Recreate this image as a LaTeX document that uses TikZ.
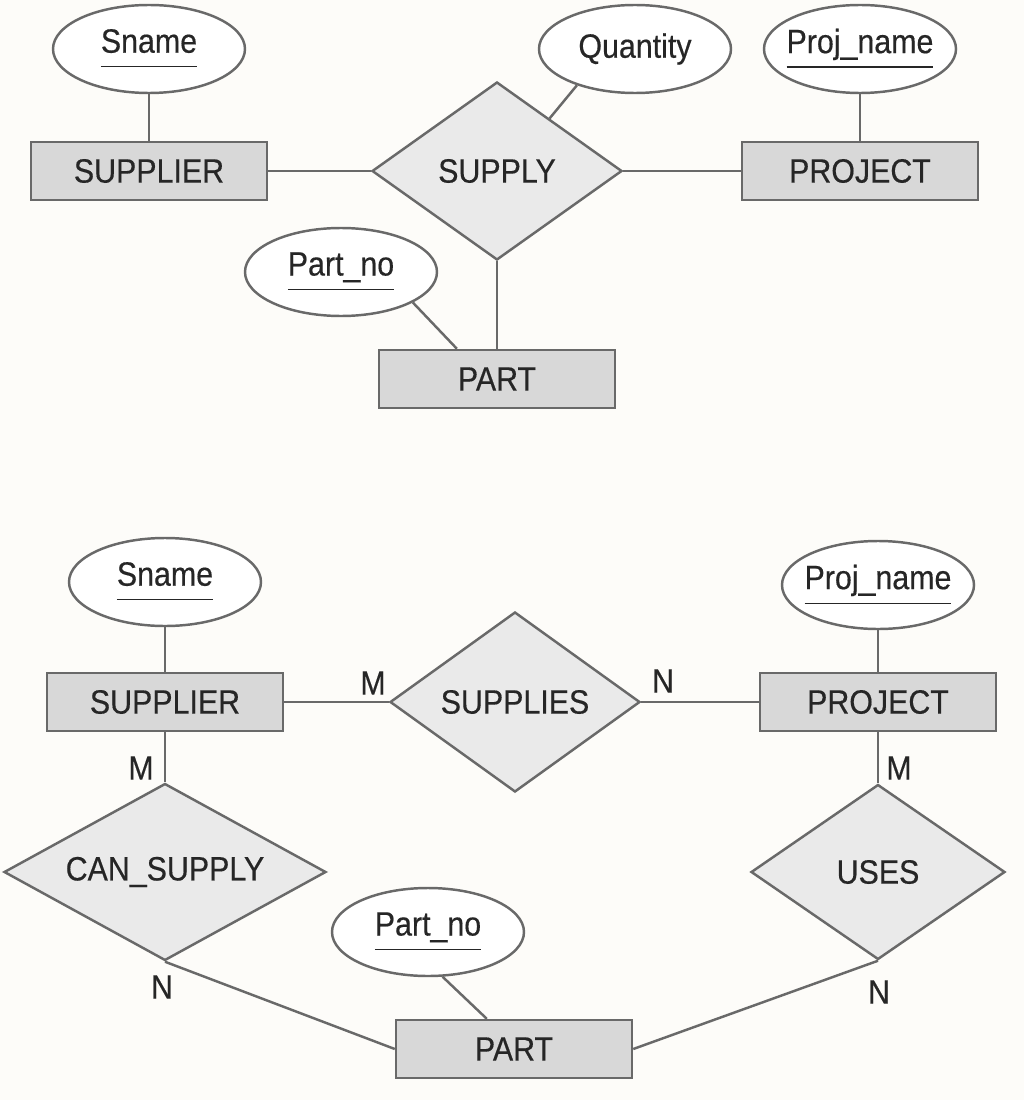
\documentclass[tikz,border=0pt]{standalone}
\usepackage{fontspec}
\setmainfont{Liberation Sans}[FakeStretch = 0.9, FakeBold = 0.4]
\usepackage{tikz}
\usetikzlibrary{shapes.geometric}
\definecolor{linegray}{RGB}{105,105,105}
\definecolor{textgray}{RGB}{38,38,38}
\definecolor{entityfill}{RGB}{216,216,216}
\definecolor{relfill}{RGB}{234,234,234}
\definecolor{bgcream}{RGB}{253,252,249}
\tikzset{entity/.style = {draw, fill = entityfill, rectangle, inner sep = 0, minimum width = 2.36cm, minimum height = 0.58cm}}
\tikzset{rel/.style = {draw, fill = relfill, diamond, inner sep = 0, aspect = 1.4}}
\tikzset{attr/.style = {draw, fill = white, ellipse, inner sep = 0, minimum width = 1.92cm, minimum height = 0.88cm}}
\newcommand{\keyattr}[1]{\underline{#1\rule[-2.6pt]{0pt}{0pt}}}

\begin{document}
\begin{tikzpicture}[line width = 0.7pt, color = linegray, text = textgray, font = \fontsize{9.6}{11}\selectfont]
          \fill [bgcream] (0, 0) rectangle (10.24, -11);

          \node [attr, label = {center:\keyattr{Sname}}] (sname1) at (1.49, -0.49) {};
          \node [entity] (supplier1) at (1.49, -1.71) {SUPPLIER};
          \node [rel, minimum width = 2.5cm, minimum height = 1.78cm] (supply) at (4.97, -1.71) {SUPPLY};
          \node [attr, label = {center:Quantity}] (quantity) at (6.35, -0.49) {};
          \node [attr, label = {center:\keyattr{Proj\_name}}] (projname1) at (8.6, -0.49) {};
          \node [entity] (project1) at (8.6, -1.71) {PROJECT};
          \node [attr, label = {center:\keyattr{Part\_no}}] (partno1) at (3.41, -2.72) {};
          \node [entity] (part1) at (4.97, -3.79) {PART};

          \draw (sname1) -- (supplier1);
          \draw (supplier1) -- (supply) -- (project1);
          \draw (quantity.-148) -- (supply.45);
          \draw (projname1) -- (project1);
          \draw (supply) -- (part1);
          \draw (partno1.-23) -- (part1.143);

          \node [attr, label = {center:\keyattr{Sname}}] (sname2) at (1.65, -5.82) {};
          \node [entity] (supplier2) at (1.65, -7.02) {SUPPLIER};
          \node [rel, minimum width = 2.5cm, minimum height = 1.8cm] (supplies) at (5.15, -7.02) {SUPPLIES};
          \node [attr, label = {center:\keyattr{Proj\_name}}] (projname2) at (8.78, -5.85) {};
          \node [entity] (project2) at (8.78, -7.02) {PROJECT};
          \node [rel, aspect = 1.8, minimum width = 3.22cm, minimum height = 1.77cm] (cansupply) at (1.65, -8.72) {CAN\_SUPPLY};
          \node [rel, minimum width = 2.54cm, minimum height = 1.75cm] (uses) at (8.78, -8.72) {USES};
          \node [attr, label = {center:\keyattr{Part\_no}}] (partno2) at (4.28, -9.32) {};
          \node [entity] (part2) at (5.14, -10.49) {PART};

          \draw (sname2) -- (supplier2);
          \draw (supplier2) -- (supplies) -- (project2);
          \draw (projname2) -- (project2);
          \draw (supplier2) -- (cansupply);
          \draw (project2) -- (uses);
          \draw (cansupply.south) -- (part2.west);
          \draw (uses.south) -- (part2.east);
          \draw (partno2.-72) -- (part2.132);

          \node (m1) at (3.73, -6.83) {M};
          \node (n1) at (6.63, -6.81) {N};
          \node (m2) at (1.41, -7.68) {M};
          \node (m3) at (8.99, -7.68) {M};
          \node (n2) at (1.62, -9.87) {N};
          \node (n3) at (8.79, -9.92) {N};
        \end{tikzpicture}
\end{document}
